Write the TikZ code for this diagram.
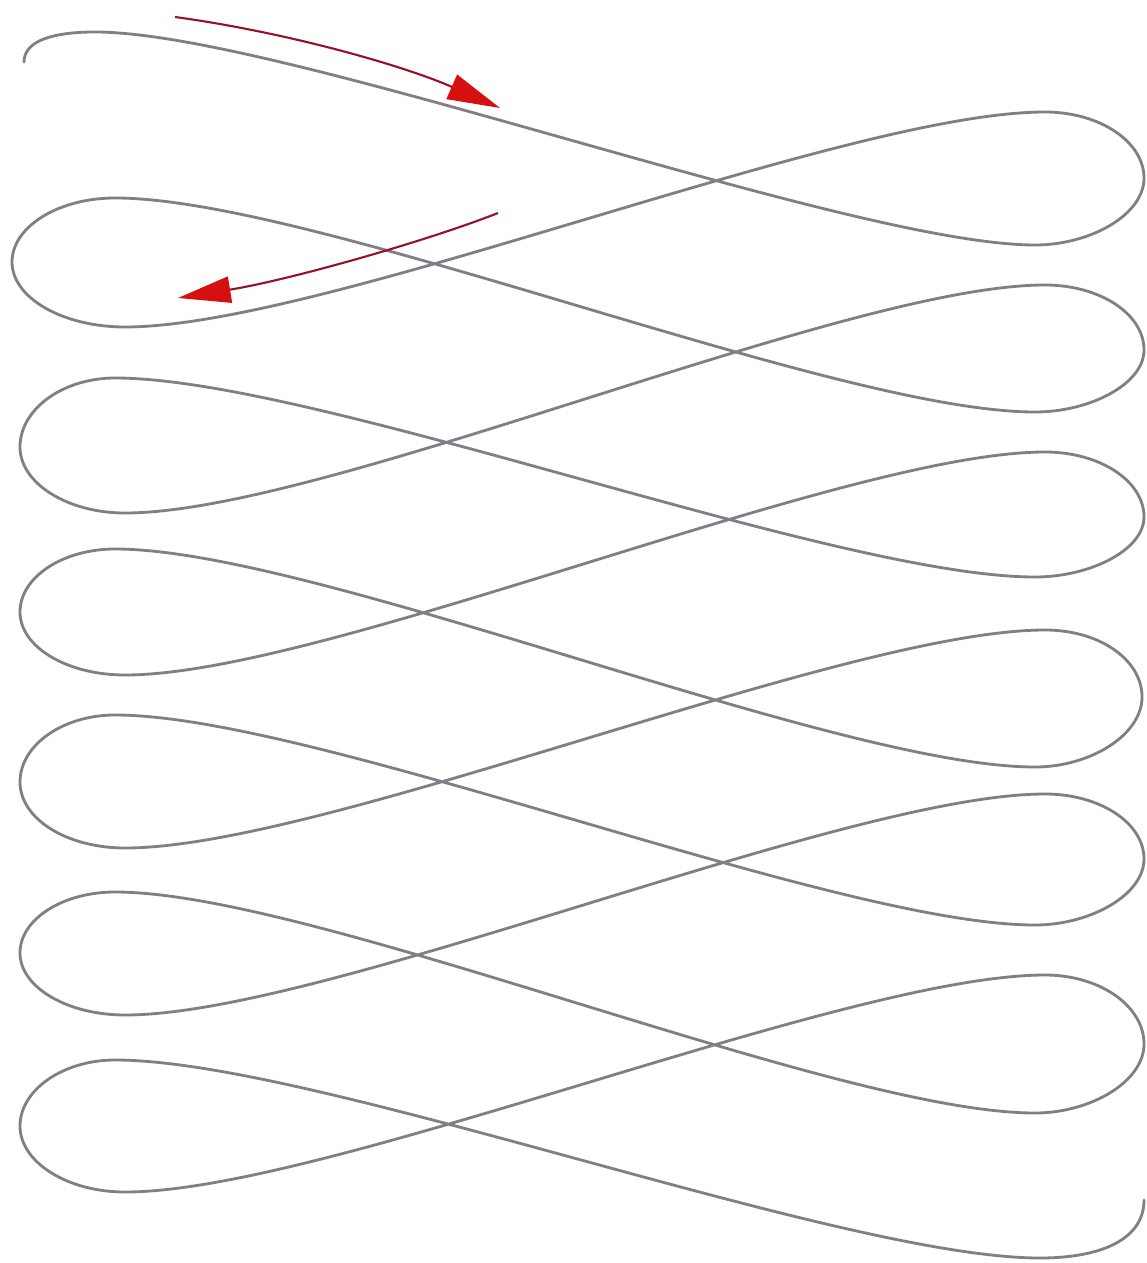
\documentclass[tikz,border=0pt]{standalone}
\usetikzlibrary{arrows.meta}
\definecolor{curvegray}{RGB}{128,126,134}
\definecolor{arrline}{RGB}{150,18,40}
\definecolor{arrred}{RGB}{214,16,16}
\tikzset{
  coil/.style={draw=curvegray, line width=1.6pt, line cap=round, line join=round},
  redarrow/.style={draw=arrline, line width=1.2pt, -{Triangle[length=30pt,width=15pt,color=arrred]}}
}
\begin{document}
\begin{tikzpicture}[x=0.02cm,y=-0.02cm]
\useasboundingbox (0,0) rectangle (1146,1263);
\fill[white] (0,0) rectangle (1146,1263);
% the continuous looping curve
\draw[coil] (24,62) .. controls (24,40) and (55,32) .. (95,32)
  % D0 -> R1
  .. controls (280,32) and (850,245) .. (1035,245)
  .. controls (1090,245) and (1144,215) .. (1144,178)
  .. controls (1144,142) and (1100,112) .. (1045,112)
  % D1 -> L1
  .. controls (845,112) and (325,327) .. (125,327)
  .. controls (63,327) and (12,298) .. (12,262)
  .. controls (12,227) and (58,198) .. (115,198)
  % D2 -> R2
  .. controls (315,198) and (835,412) .. (1035,412)
  .. controls (1090,412) and (1144,384) .. (1144,350)
  .. controls (1144,314) and (1100,285) .. (1045,285)
  % D3 -> L2
  .. controls (845,285) and (325,513) .. (125,513)
  .. controls (67,513) and (20,483) .. (20,447)
  .. controls (20,409) and (63,378) .. (115,378)
  % D4 -> R3
  .. controls (315,378) and (835,577) .. (1035,577)
  .. controls (1090,577) and (1144,550) .. (1144,517)
  .. controls (1144,481) and (1100,452) .. (1045,452)
  % D5 -> L3
  .. controls (845,452) and (325,675) .. (125,675)
  .. controls (67,675) and (20,647) .. (20,612)
  .. controls (20,577) and (63,549) .. (115,549)
  % D6 -> R4
  .. controls (315,549) and (835,767) .. (1035,767)
  .. controls (1090,767) and (1142,735) .. (1142,697)
  .. controls (1142,660) and (1100,630) .. (1045,630)
  % D7 -> L4
  .. controls (845,630) and (325,848) .. (125,848)
  .. controls (67,848) and (20,819) .. (20,782)
  .. controls (20,745) and (63,715) .. (115,715)
  % D8 -> R5
  .. controls (315,715) and (835,925) .. (1035,925)
  .. controls (1090,925) and (1144,895) .. (1144,859)
  .. controls (1144,823) and (1100,794) .. (1045,794)
  % D9 -> L5
  .. controls (845,794) and (325,1015) .. (125,1015)
  .. controls (67,1015) and (20,987) .. (20,953)
  .. controls (20,919) and (63,892) .. (115,892)
  % D10 -> R6
  .. controls (315,892) and (835,1113) .. (1035,1113)
  .. controls (1090,1113) and (1144,1082) .. (1144,1044)
  .. controls (1144,1006) and (1100,975) .. (1045,975)
  % D11 -> L6
  .. controls (845,975) and (325,1192) .. (125,1192)
  .. controls (67,1192) and (20,1162) .. (20,1126)
  .. controls (20,1090) and (63,1060) .. (115,1060)
  % D12 -> end
  .. controls (315,1060) and (840,1258) .. (1040,1258)
  .. controls (1100,1258) and (1144,1240) .. (1144,1200);
% red direction arrows
\coordinate (a1s) at (175,17);
\coordinate (a1e) at (500,108);
\coordinate (a2s) at (498,213);
\coordinate (a2e) at (178,298);
\draw[redarrow] (a1s) .. controls (285,32) and (402,65) .. (a1e);
\draw[redarrow] (a2s) .. controls (430,240) and (290,280) .. (a2e);
\end{tikzpicture}
\end{document}
